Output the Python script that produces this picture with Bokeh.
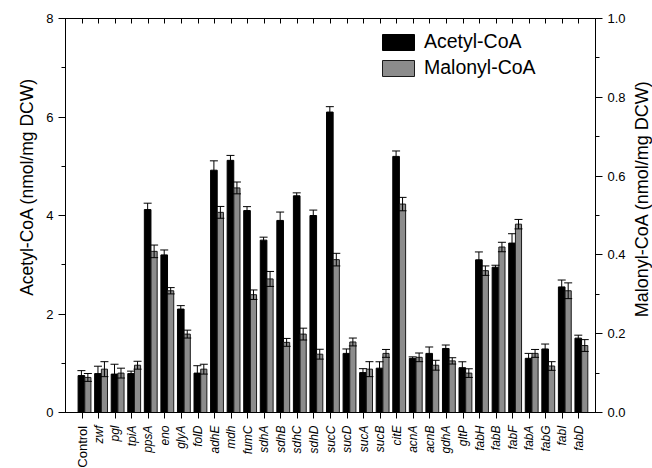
import math
from bokeh.plotting import figure
from bokeh.models import (Range1d, LinearAxis, FixedTicker, SingleIntervalTicker, Whisker, TeeHead,
                          ColumnDataSource, Legend, LegendItem, Label, PrintfTickFormatter)
from bokeh.transform import dodge
from bokeh.embed import file_html
from bokeh.resources import INLINE

genes = ["Control", "zwf", "pgl", "tpiA", "ppsA", "eno", "glyA", "folD", "adhE", "mdh", "fumC",
         "sdhA", "sdhB", "sdhC", "sdhD", "sucC", "sucD", "sucA", "sucB", "citE", "acnA", "acnB",
         "gdhA", "gltP", "fabH", "fabB", "fabF", "fabA", "fabG", "fabI", "fabD"]
acetyl = [0.75, 0.79, 0.78, 0.79, 4.12, 3.2, 2.1, 0.8, 4.92, 5.12, 4.1, 3.5, 3.9, 4.4, 4.0, 6.1,
          1.2, 0.81, 0.9, 5.2, 1.1, 1.2, 1.3, 0.91, 3.1, 2.95, 3.44, 1.1, 1.29, 2.55, 1.51]
acetyl_err = [0.1, 0.15, 0.2, 0.05, 0.13, 0.1, 0.07, 0.15, 0.19, 0.1, 0.08, 0.06, 0.17, 0.06, 0.11, 0.11,
              0.09, 0.08, 0.13, 0.11, 0.03, 0.13, 0.07, 0.12, 0.16, 0.04, 0.19, 0.1, 0.1, 0.14, 0.06]
malonyl = [0.089, 0.11, 0.1, 0.12, 0.409, 0.309, 0.199, 0.11, 0.508, 0.57, 0.299, 0.339, 0.178, 0.199,
           0.148, 0.388, 0.179, 0.11, 0.15, 0.529, 0.14, 0.12, 0.131, 0.1, 0.36, 0.42, 0.478, 0.15,
           0.118, 0.309, 0.17]
malonyl_err = [0.01, 0.019, 0.0125, 0.01, 0.016, 0.008, 0.01, 0.0125, 0.015, 0.015, 0.012, 0.019, 0.01,
               0.015, 0.0125, 0.016, 0.01, 0.019, 0.01, 0.017, 0.011, 0.0125, 0.008, 0.011, 0.012, 0.012,
               0.012, 0.01, 0.011, 0.02, 0.015]

idx = list(range(len(genes)))
src = ColumnDataSource(dict(
    idx=idx, acetyl=acetyl, malonyl=malonyl,
    a_hi=[v + e for v, e in zip(acetyl, acetyl_err)],
    a_lo=[v - e for v, e in zip(acetyl, acetyl_err)],
    m_hi=[v + e for v, e in zip(malonyl, malonyl_err)],
    m_lo=[v - e for v, e in zip(malonyl, malonyl_err)],
))

FONT = "Liberation Sans"
GRAY = "#8c8c8c"

p = figure(frame_width=530, frame_height=394, x_range=Range1d(-1, len(genes)), y_range=Range1d(0, 8),
           output_backend="svg", toolbar_location=None,
           min_border_left=65, min_border_right=57, min_border_top=18, min_border_bottom=56)
p.extra_y_ranges = {"mal": Range1d(0, 1.0)}
p.grid.visible = False
p.outline_line_color = "black"
p.background_fill_color = "white"

OFF_B, OFF_G = -0.04, 0.35
rb = p.vbar(x=dodge("idx", OFF_B, range=p.x_range), top="acetyl", bottom=0, width=0.4, source=src,
            fill_color="black", line_color="black", line_width=1)
rg = p.vbar(x=dodge("idx", OFF_G, range=p.x_range), top="malonyl", bottom=0, width=0.37, source=src,
            fill_color=GRAY, line_color="#1a1a1a", line_width=1, y_range_name="mal")

wb = Whisker(source=src, base=dodge("idx", OFF_B, range=p.x_range), upper="a_hi", lower="a_lo",
             line_color="black", line_width=1, level="annotation",
             upper_head=TeeHead(size=8, line_color="black", line_width=1), lower_head=None)
wg = Whisker(source=src, base=dodge("idx", OFF_G, range=p.x_range), upper="m_hi", lower="m_lo",
             line_color="black", line_width=1, level="annotation", y_range_name="mal",
             upper_head=TeeHead(size=8, line_color="black", line_width=1),
             lower_head=TeeHead(size=8, line_color="black", line_width=1))
p.add_layout(wb)
p.add_layout(wg)

# bottom axis
xa = p.xaxis[0]
xa.ticker = FixedTicker(ticks=idx)
xa.major_label_overrides = {i: ("" if i == 0 else g) for i, g in zip(idx, genes)}
xa.major_label_orientation = math.pi / 2
xa.major_label_text_font = FONT
xa.major_label_text_font_size = "12px"
xa.major_label_text_font_style = "italic"
xa.major_label_text_color = "black"
xa.major_label_standoff = 7
xa.major_tick_in = 0
xa.major_tick_out = 6
xa.minor_tick_line_color = None
xa.axis_line_color = "black"
xa.major_tick_line_color = "black"

p.add_layout(Label(x=0, y=-0.27, text="Control", angle=math.pi / 2, text_align="right",
                   text_baseline="middle", text_font=FONT, text_font_size="13px", text_color="black"),
             "below")

# top axis (ticks only)
ta = LinearAxis(ticker=FixedTicker(ticks=idx), major_label_text_font_size="0px",
                major_tick_in=5, major_tick_out=0, minor_tick_line_color=None,
                axis_line_color="black", major_tick_line_color="black", major_label_standoff=0)
ta.major_label_overrides = {i: "" for i in idx}
p.add_layout(ta, "above")

# left axis
ya = p.yaxis[0]
ya.ticker = SingleIntervalTicker(interval=2, num_minor_ticks=2)
ya.major_label_text_font = FONT
ya.major_label_text_font_size = "13px"
ya.major_label_text_color = "black"
ya.major_label_standoff = 5
ya.major_tick_in = 0
ya.major_tick_out = 7
ya.minor_tick_in = 0
ya.minor_tick_out = 4
ya.axis_line_color = "black"
ya.major_tick_line_color = "black"
ya.minor_tick_line_color = "black"

p.add_layout(Label(x=-3.31, y=4.58, text="Acetyl-CoA (nmol/mg DCW)", angle=math.pi / 2,
                   text_align="center", text_baseline="middle", text_font=FONT,
                   text_font_size="17.5px", text_color="black"), "left")

# right axis
ra = LinearAxis(y_range_name="mal", ticker=SingleIntervalTicker(interval=0.2, num_minor_ticks=2),
                formatter=PrintfTickFormatter(format="%.1f"))
ra.major_label_text_font = FONT
ra.major_label_text_font_size = "13px"
ra.major_label_text_color = "black"
ra.major_label_standoff = 5
ra.major_tick_in = 0
ra.major_tick_out = 7
ra.minor_tick_in = 0
ra.minor_tick_out = 4
ra.axis_line_color = "black"
ra.major_tick_line_color = "black"
ra.minor_tick_line_color = "black"
p.add_layout(ra, "right")

p.add_layout(Label(x=33.78, y=4.34, text="Malonyl-CoA (nmol/mg DCW)", angle=math.pi / 2,
                   text_align="center", text_baseline="middle", text_font=FONT,
                   text_font_size="18px", text_color="black"), "right")

legend = Legend(items=[LegendItem(label="Acetyl-CoA", renderers=[rb]),
                       LegendItem(label="Malonyl-CoA", renderers=[rg])],
                location=(313, 333), glyph_width=40, glyph_height=20, label_height=20,
                label_text_font=FONT, label_text_font_size="19.5px", label_text_color="black",
                padding=0, margin=0, spacing=3, label_standoff=6,
                border_line_alpha=0, background_fill_alpha=0)
p.add_layout(legend)

open("out.html", "w").write(file_html(p, INLINE))
